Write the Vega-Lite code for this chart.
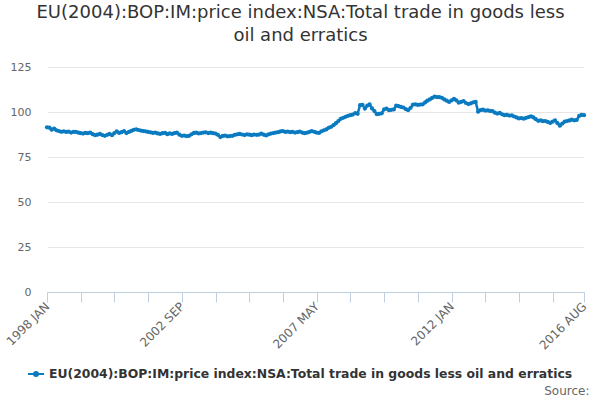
{
  "$schema": "https://vega.github.io/schema/vega-lite/v6.json",
  "width": 537,
  "height": 225,
  "autosize": {"type": "none"},
  "padding": {"left": 47, "top": 67, "right": 16, "bottom": 108},
  "background": "white",
  "config": {
    "view": {"stroke": null},
    "font": "DejaVu Sans"
  },
  "title": {
    "text": ["EU(2004):BOP:IM:price index:NSA:Total trade in goods less", "oil and erratics"],
    "fontSize": 18,
    "fontWeight": "normal",
    "color": "#333333",
    "lineHeight": 23,
    "anchor": "middle",
    "dx": -15,
    "offset": 16
  },
  "data": {
    "values": [
      {"month": "1998-01-01", "value": 91.5}, {"month": "1998-02-01", "value": 91.3}, {"month": "1998-03-01", "value": 90.2}, {"month": "1998-04-01", "value": 90.8},
      {"month": "1998-05-01", "value": 89.8}, {"month": "1998-06-01", "value": 89.4}, {"month": "1998-07-01", "value": 89.0}, {"month": "1998-08-01", "value": 89.3},
      {"month": "1998-09-01", "value": 88.9}, {"month": "1998-10-01", "value": 89.1}, {"month": "1998-11-01", "value": 88.6}, {"month": "1998-12-01", "value": 88.9},
      {"month": "1999-01-01", "value": 89.0}, {"month": "1999-02-01", "value": 88.5}, {"month": "1999-03-01", "value": 88.3}, {"month": "1999-04-01", "value": 88.0},
      {"month": "1999-05-01", "value": 88.4}, {"month": "1999-06-01", "value": 88.2}, {"month": "1999-07-01", "value": 88.6}, {"month": "1999-08-01", "value": 87.7},
      {"month": "1999-09-01", "value": 87.1}, {"month": "1999-10-01", "value": 87.4}, {"month": "1999-11-01", "value": 87.8}, {"month": "1999-12-01", "value": 87.2},
      {"month": "2000-01-01", "value": 86.8}, {"month": "2000-02-01", "value": 87.3}, {"month": "2000-03-01", "value": 87.8}, {"month": "2000-04-01", "value": 87.1},
      {"month": "2000-05-01", "value": 88.3}, {"month": "2000-06-01", "value": 89.2}, {"month": "2000-07-01", "value": 88.4}, {"month": "2000-08-01", "value": 88.8},
      {"month": "2000-09-01", "value": 89.4}, {"month": "2000-10-01", "value": 88.3}, {"month": "2000-11-01", "value": 88.9}, {"month": "2000-12-01", "value": 89.5},
      {"month": "2001-01-01", "value": 90.1}, {"month": "2001-02-01", "value": 90.4}, {"month": "2001-03-01", "value": 90.0}, {"month": "2001-04-01", "value": 89.7},
      {"month": "2001-05-01", "value": 89.4}, {"month": "2001-06-01", "value": 89.3}, {"month": "2001-07-01", "value": 88.9}, {"month": "2001-08-01", "value": 88.7},
      {"month": "2001-09-01", "value": 88.4}, {"month": "2001-10-01", "value": 88.6}, {"month": "2001-11-01", "value": 88.1}, {"month": "2001-12-01", "value": 87.8},
      {"month": "2002-01-01", "value": 88.2}, {"month": "2002-02-01", "value": 88.4}, {"month": "2002-03-01", "value": 87.7}, {"month": "2002-04-01", "value": 88.1},
      {"month": "2002-05-01", "value": 87.8}, {"month": "2002-06-01", "value": 88.3}, {"month": "2002-07-01", "value": 88.5}, {"month": "2002-08-01", "value": 87.4},
      {"month": "2002-09-01", "value": 86.8}, {"month": "2002-10-01", "value": 86.9}, {"month": "2002-11-01", "value": 86.6}, {"month": "2002-12-01", "value": 86.8},
      {"month": "2003-01-01", "value": 87.6}, {"month": "2003-02-01", "value": 88.4}, {"month": "2003-03-01", "value": 88.5}, {"month": "2003-04-01", "value": 88.1},
      {"month": "2003-05-01", "value": 88.3}, {"month": "2003-06-01", "value": 88.6}, {"month": "2003-07-01", "value": 88.7}, {"month": "2003-08-01", "value": 88.3},
      {"month": "2003-09-01", "value": 88.5}, {"month": "2003-10-01", "value": 88.2}, {"month": "2003-11-01", "value": 88.0}, {"month": "2003-12-01", "value": 87.3},
      {"month": "2004-01-01", "value": 86.1}, {"month": "2004-02-01", "value": 86.7}, {"month": "2004-03-01", "value": 86.9}, {"month": "2004-04-01", "value": 86.5},
      {"month": "2004-05-01", "value": 86.6}, {"month": "2004-06-01", "value": 86.8}, {"month": "2004-07-01", "value": 87.3}, {"month": "2004-08-01", "value": 87.6},
      {"month": "2004-09-01", "value": 87.8}, {"month": "2004-10-01", "value": 87.5}, {"month": "2004-11-01", "value": 87.2}, {"month": "2004-12-01", "value": 87.6},
      {"month": "2005-01-01", "value": 87.4}, {"month": "2005-02-01", "value": 87.1}, {"month": "2005-03-01", "value": 87.5}, {"month": "2005-04-01", "value": 87.3},
      {"month": "2005-05-01", "value": 87.4}, {"month": "2005-06-01", "value": 88.0}, {"month": "2005-07-01", "value": 87.4}, {"month": "2005-08-01", "value": 87.0},
      {"month": "2005-09-01", "value": 87.6}, {"month": "2005-10-01", "value": 88.0}, {"month": "2005-11-01", "value": 88.3}, {"month": "2005-12-01", "value": 88.6},
      {"month": "2006-01-01", "value": 88.8}, {"month": "2006-02-01", "value": 89.2}, {"month": "2006-03-01", "value": 89.4}, {"month": "2006-04-01", "value": 88.9},
      {"month": "2006-05-01", "value": 89.1}, {"month": "2006-06-01", "value": 88.8}, {"month": "2006-07-01", "value": 89.0}, {"month": "2006-08-01", "value": 88.6},
      {"month": "2006-09-01", "value": 88.8}, {"month": "2006-10-01", "value": 89.1}, {"month": "2006-11-01", "value": 88.6}, {"month": "2006-12-01", "value": 88.2},
      {"month": "2007-01-01", "value": 88.5}, {"month": "2007-02-01", "value": 89.0}, {"month": "2007-03-01", "value": 89.4}, {"month": "2007-04-01", "value": 89.0},
      {"month": "2007-05-01", "value": 88.6}, {"month": "2007-06-01", "value": 88.4}, {"month": "2007-07-01", "value": 89.3}, {"month": "2007-08-01", "value": 89.8},
      {"month": "2007-09-01", "value": 90.3}, {"month": "2007-10-01", "value": 91.2}, {"month": "2007-11-01", "value": 91.8}, {"month": "2007-12-01", "value": 92.7},
      {"month": "2008-01-01", "value": 93.8}, {"month": "2008-02-01", "value": 95.0}, {"month": "2008-03-01", "value": 96.2}, {"month": "2008-04-01", "value": 96.8},
      {"month": "2008-05-01", "value": 97.3}, {"month": "2008-06-01", "value": 97.9}, {"month": "2008-07-01", "value": 98.2}, {"month": "2008-08-01", "value": 98.6},
      {"month": "2008-09-01", "value": 99.4}, {"month": "2008-10-01", "value": 99.0}, {"month": "2008-11-01", "value": 103.8}, {"month": "2008-12-01", "value": 104.0},
      {"month": "2009-01-01", "value": 101.9}, {"month": "2009-02-01", "value": 103.6}, {"month": "2009-03-01", "value": 104.2}, {"month": "2009-04-01", "value": 102.0},
      {"month": "2009-05-01", "value": 100.5}, {"month": "2009-06-01", "value": 98.8}, {"month": "2009-07-01", "value": 99.0}, {"month": "2009-08-01", "value": 99.3},
      {"month": "2009-09-01", "value": 101.5}, {"month": "2009-10-01", "value": 101.9}, {"month": "2009-11-01", "value": 101.0}, {"month": "2009-12-01", "value": 101.2},
      {"month": "2010-01-01", "value": 101.4}, {"month": "2010-02-01", "value": 103.6}, {"month": "2010-03-01", "value": 103.3}, {"month": "2010-04-01", "value": 102.8},
      {"month": "2010-05-01", "value": 102.5}, {"month": "2010-06-01", "value": 101.6}, {"month": "2010-07-01", "value": 101.0}, {"month": "2010-08-01", "value": 102.3},
      {"month": "2010-09-01", "value": 104.1}, {"month": "2010-10-01", "value": 104.3}, {"month": "2010-11-01", "value": 103.9}, {"month": "2010-12-01", "value": 104.1},
      {"month": "2011-01-01", "value": 104.3}, {"month": "2011-02-01", "value": 105.3}, {"month": "2011-03-01", "value": 106.3}, {"month": "2011-04-01", "value": 107.0},
      {"month": "2011-05-01", "value": 107.8}, {"month": "2011-06-01", "value": 108.6}, {"month": "2011-07-01", "value": 108.2}, {"month": "2011-08-01", "value": 108.3},
      {"month": "2011-09-01", "value": 107.9}, {"month": "2011-10-01", "value": 107.0}, {"month": "2011-11-01", "value": 106.3}, {"month": "2011-12-01", "value": 105.6},
      {"month": "2012-01-01", "value": 106.4}, {"month": "2012-02-01", "value": 107.3}, {"month": "2012-03-01", "value": 106.5}, {"month": "2012-04-01", "value": 105.2},
      {"month": "2012-05-01", "value": 105.6}, {"month": "2012-06-01", "value": 106.1}, {"month": "2012-07-01", "value": 105.0}, {"month": "2012-08-01", "value": 104.4},
      {"month": "2012-09-01", "value": 104.8}, {"month": "2012-10-01", "value": 105.4}, {"month": "2012-11-01", "value": 105.6}, {"month": "2012-12-01", "value": 100.2},
      {"month": "2013-01-01", "value": 101.0}, {"month": "2013-02-01", "value": 101.3}, {"month": "2013-03-01", "value": 100.8}, {"month": "2013-04-01", "value": 100.9},
      {"month": "2013-05-01", "value": 100.6}, {"month": "2013-06-01", "value": 100.5}, {"month": "2013-07-01", "value": 99.6}, {"month": "2013-08-01", "value": 99.1},
      {"month": "2013-09-01", "value": 99.5}, {"month": "2013-10-01", "value": 98.7}, {"month": "2013-11-01", "value": 98.2}, {"month": "2013-12-01", "value": 98.4},
      {"month": "2014-01-01", "value": 98.0}, {"month": "2014-02-01", "value": 98.1}, {"month": "2014-03-01", "value": 97.5}, {"month": "2014-04-01", "value": 97.0},
      {"month": "2014-05-01", "value": 96.4}, {"month": "2014-06-01", "value": 96.6}, {"month": "2014-07-01", "value": 96.3}, {"month": "2014-08-01", "value": 96.8},
      {"month": "2014-09-01", "value": 97.2}, {"month": "2014-10-01", "value": 97.6}, {"month": "2014-11-01", "value": 97.0}, {"month": "2014-12-01", "value": 96.0},
      {"month": "2015-01-01", "value": 95.1}, {"month": "2015-02-01", "value": 95.3}, {"month": "2015-03-01", "value": 94.9}, {"month": "2015-04-01", "value": 95.0},
      {"month": "2015-05-01", "value": 94.5}, {"month": "2015-06-01", "value": 93.9}, {"month": "2015-07-01", "value": 94.6}, {"month": "2015-08-01", "value": 95.4},
      {"month": "2015-09-01", "value": 93.8}, {"month": "2015-10-01", "value": 92.4}, {"month": "2015-11-01", "value": 93.6}, {"month": "2015-12-01", "value": 94.6},
      {"month": "2016-01-01", "value": 95.0}, {"month": "2016-02-01", "value": 95.3}, {"month": "2016-03-01", "value": 95.7}, {"month": "2016-04-01", "value": 95.4},
      {"month": "2016-05-01", "value": 95.6}, {"month": "2016-06-01", "value": 97.8}, {"month": "2016-07-01", "value": 98.4}, {"month": "2016-08-01", "value": 98.2}
    ]
  },
  "mark": {
    "type": "line",
    "strokeWidth": 2.5,
    "point": {"filled": true, "size": 18, "color": "#0a7bc1"}
  },
  "encoding": {
    "x": {
      "field": "month",
      "type": "temporal",
      "scale": {"type": "utc", "nice": false},
      "axis": {
        "values": [
          {"year": 1998, "month": 1, "utc": true}, {"year": 1999, "month": 3, "utc": true},
          {"year": 2000, "month": 5, "utc": true}, {"year": 2001, "month": 7, "utc": true},
          {"year": 2002, "month": 9, "utc": true}, {"year": 2003, "month": 11, "utc": true},
          {"year": 2005, "month": 1, "utc": true}, {"year": 2006, "month": 3, "utc": true},
          {"year": 2007, "month": 5, "utc": true}, {"year": 2008, "month": 7, "utc": true},
          {"year": 2009, "month": 9, "utc": true}, {"year": 2010, "month": 11, "utc": true},
          {"year": 2012, "month": 1, "utc": true}, {"year": 2013, "month": 3, "utc": true},
          {"year": 2014, "month": 5, "utc": true}, {"year": 2015, "month": 7, "utc": true},
          {"year": 2016, "month": 8, "utc": true}
        ],
        "labelExpr": "indexof(['1998-01', '2002-09', '2007-05', '2012-01', '2016-08'], utcFormat(datum.value, '%Y-%m')) >= 0 ? upper(utcFormat(datum.value, '%Y %b')) : ''",
        "labelAngle": -45,
        "labelAlign": "right",
        "labelBaseline": "middle",
        "labelFontSize": 12,
        "labelColor": "#666666",
        "labelPadding": 2,
        "labelOverlap": false,
        "labelFlush": false,
        "grid": false,
        "domainColor": "#C0D0E0",
        "tickColor": "#C0D0E0",
        "tickSize": 10,
        "title": "Source:",
        "titleFontSize": 12,
        "titleFontWeight": "normal",
        "titleColor": "#666666",
        "titleAnchor": "end",
        "titleAlign": "right",
        "titleBaseline": "alphabetic",
        "titleX": 542,
        "titleY": 102
      }
    },
    "y": {
      "field": "value",
      "type": "quantitative",
      "scale": {"domain": [0, 125], "nice": false},
      "axis": {
        "values": [0, 25, 50, 75, 100, 125],
        "title": null,
        "domain": false,
        "ticks": false,
        "tickSize": 0,
        "labelPadding": 16,
        "labelFontSize": 11,
        "labelColor": "#666666",
        "gridColor": "#E6E6E6"
      }
    },
    "color": {
      "field": "series",
      "type": "nominal",
      "datum": "EU(2004):BOP:IM:price index:NSA:Total trade in goods less oil and erratics",
      "scale": {"range": ["#0a7bc1"]},
      "legend": {
        "title": null,
        "orient": "none",
        "legendX": -20,
        "legendY": 298,
        "direction": "horizontal",
        "symbolType": "M-1,0L1,0M-0.25,0A0.25,0.25 0 1,0 0.25,0A0.25,0.25 0 1,0 -0.25,0",
        "symbolSize": 256,
        "symbolStrokeWidth": 2,
        "symbolFillColor": "#0a7bc1",
        "symbolStrokeColor": "#0a7bc1",
        "labelFontSize": 12.4,
        "labelFontWeight": "bold",
        "labelColor": "#333333",
        "labelLimit": 0,
        "labelOffset": 4
      }
    }
  }
}
